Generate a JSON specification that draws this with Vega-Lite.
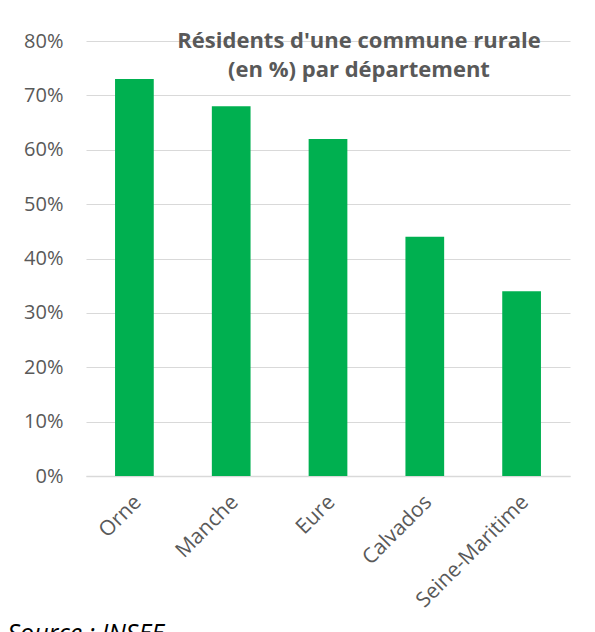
{
  "$schema": "https://vega.github.io/schema/vega-lite/v6.json",
  "width": 484,
  "height": 435,
  "autosize": {"type": "none"},
  "padding": {"left": 86, "top": 41, "right": 25, "bottom": 156},
  "background": "white",
  "title": {
    "text": ["Résidents d'une commune rurale", "(en %) par département"],
    "orient": "top",
    "anchor": "middle",
    "frame": "group",
    "baseline": "alphabetic",
    "offset": -68,
    "dx": 31,
    "lineHeight": 29,
    "font": "Open Sans",
    "fontSize": 22,
    "fontWeight": "bold",
    "color": "#595959"
  },
  "data": {
    "values": [
      {"departement": "Orne", "part": 0.73},
      {"departement": "Manche", "part": 0.68},
      {"departement": "Eure", "part": 0.62},
      {"departement": "Calvados", "part": 0.44},
      {"departement": "Seine-Maritime", "part": 0.34}
    ]
  },
  "mark": {"type": "bar", "color": "#00B050"},
  "encoding": {
    "x": {
      "field": "departement",
      "type": "nominal",
      "sort": null,
      "scale": {"paddingInner": 0.6, "paddingOuter": 0.3},
      "axis": {
        "title": "Source : INSEE",
        "titleFont": "Open Sans",
        "titleFontSize": 25,
        "titleFontStyle": "italic",
        "titleFontWeight": "normal",
        "titleColor": "#000000",
        "titleAnchor": "start",
        "titleAlign": "left",
        "titleBaseline": "alphabetic",
        "titleX": -79,
        "titleY": 165,
        "labelAngle": -45,
        "labelFont": "Open Sans",
        "labelFontSize": 21,
        "labelColor": "#595959",
        "labelPadding": 15,
        "labelOffset": -4,
        "ticks": false,
        "domain": true,
        "domainColor": "#D9D9D9",
        "domainWidth": 1.5,
        "grid": false
      }
    },
    "y": {
      "field": "part",
      "type": "quantitative",
      "scale": {"domain": [0, 0.8], "nice": false},
      "axis": {
        "title": null,
        "format": ".0%",
        "values": [0, 0.1, 0.2, 0.3, 0.4, 0.5, 0.6, 0.7, 0.8],
        "labelFont": "Open Sans",
        "labelFontSize": 20,
        "labelColor": "#595959",
        "labelPadding": 23,
        "ticks": false,
        "domain": false,
        "grid": true,
        "gridColor": "#D9D9D9",
        "gridWidth": 1.2
      }
    }
  },
  "config": {
    "view": {"stroke": null}
  }
}
